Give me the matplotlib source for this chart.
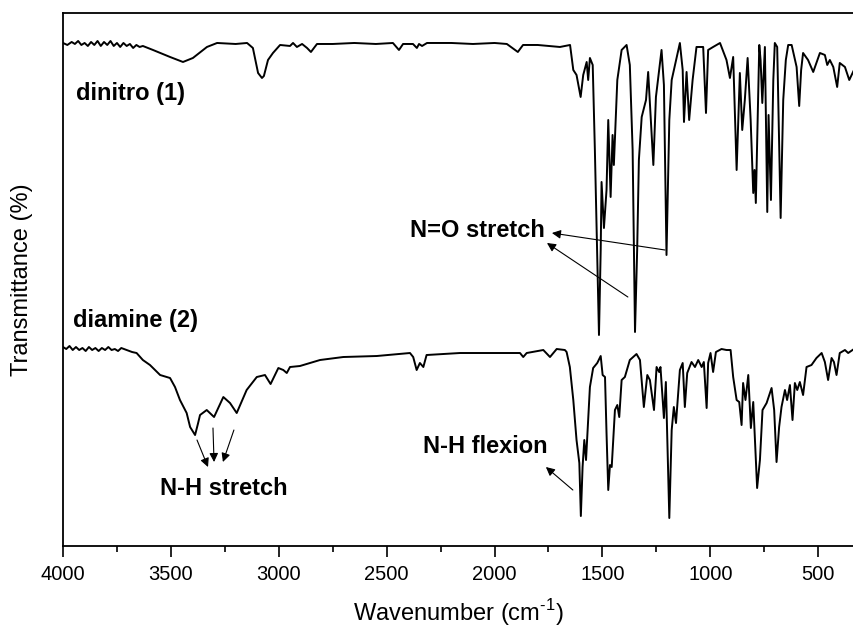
import matplotlib
matplotlib.use('Agg')
import matplotlib.pyplot as plt
from matplotlib.ticker import MultipleLocator

plt.rcParams['font.family'] = ['Liberation Sans', 'DejaVu Sans']
plt.rcParams['mathtext.fontset'] = 'custom'
plt.rcParams['mathtext.rm'] = 'Liberation Sans'

# spectre du dinitro (1) : nombre d'onde (cm-1) / transmittance (u.a.)
dinitro_wn = [4000, 3980, 3960, 3945, 3930, 3915, 3900, 3885, 3870, 3855, 3840, 3825, 3810, 3795,
              3780, 3765, 3750, 3735, 3720, 3705, 3690, 3675, 3660, 3645, 3630, 3583, 3504, 3444,
              3398, 3333, 3286, 3200, 3147, 3120, 3096, 3078, 3069, 3050, 3027, 2994, 2948, 2934,
              2916, 2892, 2869, 2851, 2823, 2750, 2650, 2550, 2471, 2443, 2424, 2378, 2360, 2350,
              2336, 2313, 2200, 2100, 2000, 1943, 1892, 1868, 1800, 1750, 1697, 1650, 1635, 1620,
              1601, 1589, 1573, 1566, 1558, 1545, 1535, 1516, 1508, 1504, 1493, 1481, 1473, 1465,
              1462, 1453, 1447, 1431, 1411, 1388, 1373, 1360, 1349, 1339, 1331, 1318, 1298, 1288,
              1277, 1264, 1252, 1237, 1226, 1215, 1203, 1190, 1179, 1141, 1128, 1122, 1110, 1098,
              1082, 1064, 1033, 1020, 1010, 987, 955, 925, 909, 894, 878, 863, 852, 840,
              827, 813, 801, 795, 789, 773, 767, 759, 747, 736, 730, 719, 708, 701,
              690, 674, 662, 650, 639, 623, 600, 588, 579, 570, 547, 523, 492, 469,
              458, 446, 430, 412, 400, 376, 356, 334]
dinitro_t = [503, 501, 504, 502, 505, 501, 503, 500, 504, 501, 505, 500, 504, 501,
             505, 500, 503, 499, 503, 500, 502, 498, 501, 499, 500, 496, 489, 484,
             488, 499, 503, 502, 503, 498, 473, 468, 470, 486, 493, 501, 500, 503,
             499, 502, 498, 494, 502, 502, 503, 502, 503, 496, 502, 502, 498, 502,
             500, 503, 503, 502, 503, 502, 494, 501, 501, 500, 499, 501, 476, 471,
             449, 471, 484, 466, 488, 481, 396, 211, 296, 364, 318, 356, 426, 371,
             349, 411, 381, 466, 496, 501, 481, 396, 214, 296, 386, 429, 446, 474,
             431, 381, 449, 476, 496, 461, 291, 426, 466, 503, 476, 424, 474, 426,
             466, 499, 499, 433, 496, 499, 503, 486, 468, 489, 376, 473, 416, 446,
             488, 426, 353, 376, 343, 501, 486, 443, 499, 334, 431, 346, 466, 503,
             499, 328, 446, 486, 501, 501, 479, 440, 476, 493, 486, 474, 493, 491,
             481, 486, 479, 459, 483, 479, 466, 476]

# spectre de la diamine (2)
diamine_wn = [4000, 3985, 3970, 3955, 3940, 3925, 3910, 3895, 3880, 3865, 3850, 3835, 3820, 3805,
              3790, 3775, 3760, 3745, 3730, 3705, 3680, 3659, 3630, 3597, 3550, 3504, 3481, 3458,
              3427, 3411, 3388, 3375, 3365, 3334, 3300, 3257, 3226, 3195, 3149, 3102, 3064, 3038,
              3002, 2979, 2963, 2948, 2902, 2809, 2701, 2546, 2392, 2377, 2361, 2346, 2330, 2315,
              2160, 2000, 1882, 1867, 1851, 1774, 1743, 1712, 1674, 1666, 1651, 1635, 1620, 1607,
              1600, 1592, 1584, 1576, 1558, 1543, 1524, 1508, 1499, 1488, 1481, 1473, 1465, 1457,
              1442, 1431, 1422, 1411, 1396, 1373, 1342, 1326, 1308, 1292, 1280, 1261, 1249, 1237,
              1231, 1215, 1206, 1190, 1179, 1169, 1159, 1141, 1128, 1118, 1107, 1087, 1071, 1056,
              1040, 1030, 1017, 1010, 999, 987, 974, 948, 925, 906, 894, 878, 866, 855,
              848, 837, 824, 812, 801, 793, 783, 770, 758, 739, 716, 704, 693, 681,
              670, 654, 644, 631, 619, 608, 597, 585, 570, 554, 531, 508, 484, 469,
              454, 438, 427, 415, 400, 376, 361, 334]
diamine_t = [199, 197, 200, 196, 199, 196, 198, 195, 199, 196, 198, 195, 198, 196,
             199, 196, 197, 195, 198, 196, 194, 193, 186, 181, 171, 168, 159, 146,
             133, 119, 111, 122, 131, 136, 129, 149, 143, 133, 156, 169, 171, 162,
             178, 176, 173, 179, 180, 186, 189, 190, 193, 189, 176, 183, 179, 191,
             193, 193, 193, 189, 193, 196, 189, 197, 196, 194, 179, 146, 106, 83,
             30, 79, 106, 86, 159, 178, 183, 190, 171, 169, 113, 56, 81, 79,
             136, 141, 129, 166, 169, 186, 192, 186, 139, 171, 166, 136, 179, 174,
             179, 128, 164, 28, 116, 139, 123, 176, 183, 139, 173, 184, 179, 186,
             179, 184, 138, 183, 193, 174, 194, 197, 196, 196, 169, 146, 144, 121,
             163, 146, 171, 118, 144, 106, 58, 86, 136, 143, 158, 136, 84, 119,
             139, 156, 146, 161, 126, 163, 156, 164, 151, 179, 181, 188, 193, 184,
             166, 188, 184, 171, 193, 196, 193, 197]

# etiquettes : texte, position (nombre d'onde, transmittance)
etiquettes = ['dinitro (1)', 'diamine (2)', 'N=O stretch', 'N-H stretch', 'N-H flexion']
etiq_x = [3940, 3954, 2392, 3550, 2332]
etiq_y = [446, 219, 309, 51, 93]

# fleches : (depart) -> (pointe)
fleche_depart = [(1210, 296), (1382, 249), (3379, 106), (3305, 118), (3208, 116), (1637, 56)]
fleche_pointe = [(1734, 313), (1757, 303), (3328, 79), (3300, 84), (3259, 84), (1762, 79)]

fig = plt.figure(figsize=(8.54, 6.33), dpi=100)
ax = fig.add_axes([0.0738, 0.1374, 0.9262, 0.8421])

ax.plot(dinitro_wn, dinitro_t, color='black', lw=1.4)
ax.plot(diamine_wn, diamine_t, color='black', lw=1.4)

for i in range(len(etiquettes)):
    ax.text(etiq_x[i], etiq_y[i], etiquettes[i], fontsize=17, fontweight='bold',
            ha='left', va='baseline')

for i in range(len(fleche_depart)):
    ax.annotate('', xy=fleche_pointe[i], xytext=fleche_depart[i],
                arrowprops=dict(arrowstyle='-|>', color='black', lw=0.8,
                                mutation_scale=13, shrinkA=0, shrinkB=0))

ax.set_xlim(4000, 334)
ax.set_ylim(0, 533)
ax.xaxis.set_major_locator(MultipleLocator(500))
ax.xaxis.set_minor_locator(MultipleLocator(250))
ax.tick_params(axis='x', which='major', direction='out', length=8, width=1.2, labelsize=14.5, pad=6)
ax.tick_params(axis='x', which='minor', direction='out', length=4, width=1.2)
ax.set_yticks([])
ax.spines['right'].set_visible(False)
for s in ['left', 'top', 'bottom']:
    ax.spines[s].set_linewidth(1.3)

ax.set_xlabel(r'Wavenumber (cm$^{\text{-1}}$)', fontsize=17, labelpad=9)
ax.set_ylabel('Transmittance (%)', fontsize=17)
ax.yaxis.set_label_coords(-0.038, 0.5)

fig.savefig('out.png', dpi=100)
